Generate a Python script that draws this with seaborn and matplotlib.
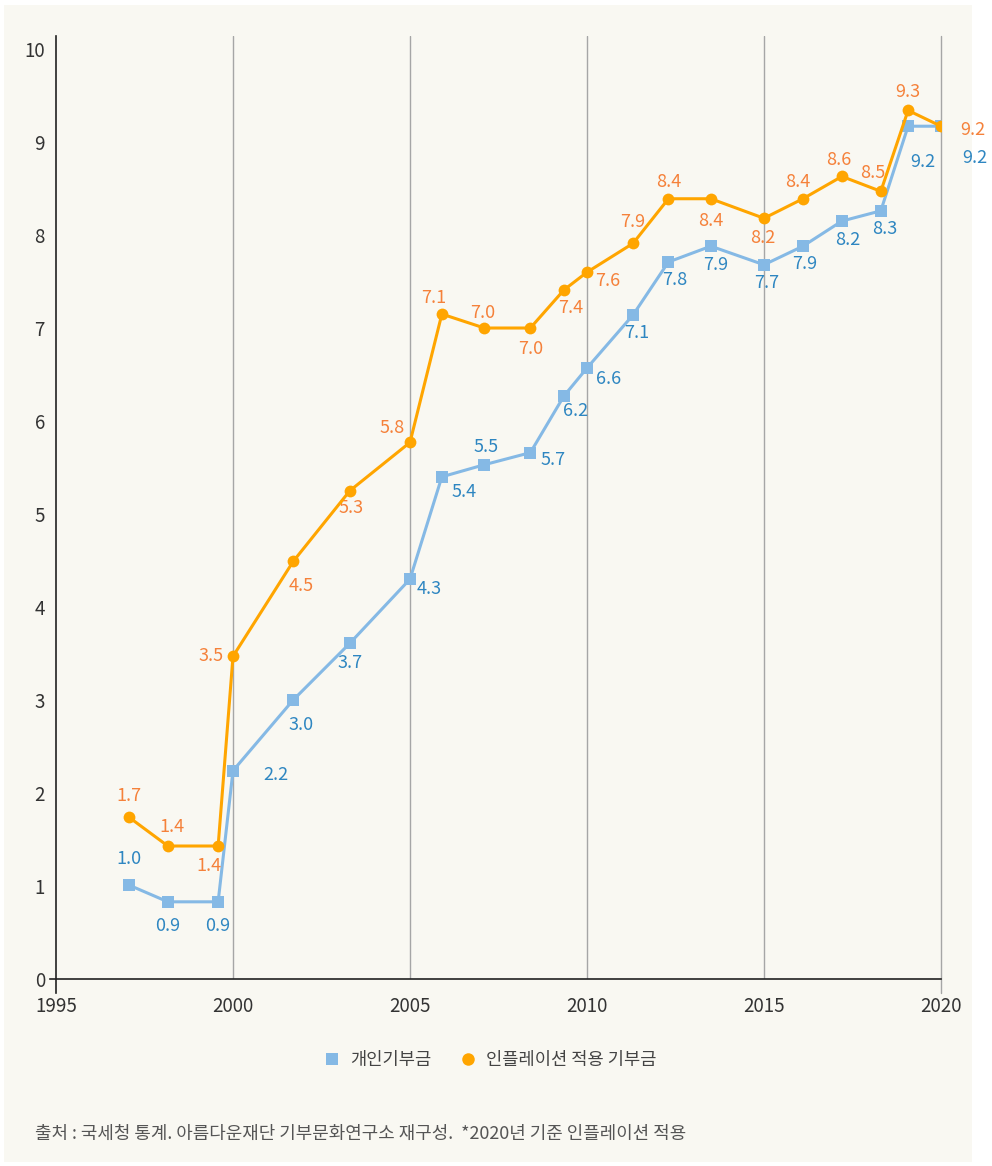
import matplotlib.pyplot as plt
import matplotlib.patches as mpatches
from matplotlib.lines import Line2D
import seaborn as sns

# x positions as placed on the original chart (years, uneven spacing)
years = [1997.06, 1998.16, 1999.58, 2000.0, 2001.7, 2003.3, 2005.0, 2005.9,
         2007.1, 2008.4, 2009.35, 2010.0, 2011.3, 2012.3, 2013.5, 2015.0,
         2016.1, 2017.2, 2018.3, 2019.07, 2020.0]

# 개인기부금
personal = [1.01, 0.83, 0.83, 2.24, 3.0, 3.61, 4.3, 5.4, 5.53, 5.66, 6.27,
            6.57, 7.14, 7.71, 7.88, 7.68, 7.88, 8.15, 8.26, 9.17, 9.17]
personal_labels = ["1.0", "0.9", "0.9", "2.2", "3.0", "3.7", "4.3", "5.4", "5.5",
                   "5.7", "6.2", "6.6", "7.1", "7.8", "7.9", "7.7", "7.9", "8.2",
                   "8.3", "9.2", "9.2"]

# 인플레이션 적용 기부금
adjusted = [1.74, 1.43, 1.43, 3.47, 4.49, 5.25, 5.77, 7.15, 7.0, 7.0, 7.41,
            7.6, 7.91, 8.39, 8.39, 8.18, 8.39, 8.63, 8.47, 9.34, 9.17]
adjusted_labels = ["1.7", "1.4", "1.4", "3.5", "4.5", "5.3", "5.8", "7.1", "7.0",
                   "7.0", "7.4", "7.6", "7.9", "8.4", "8.4", "8.2", "8.4", "8.6",
                   "8.5", "9.3", "9.2"]

# label offsets in pixels (dx right, dy down)
personal_off = [(0, -26), (0, 24), (0, 24), (43, 4), (8, 25), (0, 20), (19, 10),
                (22, 15), (2, -18), (23, 7), (12, 15), (22, 11), (4, 18), (6, 18),
                (5, 19), (3, 18), (2, 18), (6, 19), (4, 18), (15, 36), (34, 32)]
adjusted_off = [(0, -21), (4, -19), (-9, 20), (-22, 0), (8, 25), (1, 17), (-18, -14),
                (-8, -16), (-2, -15), (0, 21), (7, 18), (21, 9), (0, -21), (0, -17),
                (0, 22), (-1, 20), (-5, -17), (-3, -16), (-8, -18), (0, -18), (32, 4)]

BLUE = "#85b9e5"
BLUE_TXT = "#2e86c1"
ORANGE = "#ffa500"
ORANGE_TXT = "#f5813a"
BG = "#f9f8f2"

sns.set_style("white")
plt.rcParams['font.family'] = ['Noto Sans CJK KR', 'DejaVu Sans']

fig = plt.figure(figsize=(9.92, 11.66), dpi=100, facecolor="white")
fig.patches.append(mpatches.Rectangle((4 / 992, 1 - 1162 / 1166), 968 / 992, 1157 / 1166,
                                      transform=fig.transFigure, facecolor=BG,
                                      edgecolor="none", zorder=-10))
ax = fig.add_axes([56 / 992, 1 - 979 / 1166, 885 / 992, 943 / 1166])
ax.set_facecolor(BG)
ax.patch.set_alpha(0)

for g in [2000, 2005, 2010, 2015]:
    ax.axvline(g, color="#a6a6a6", lw=1, zorder=0)
ax.plot([2020, 2020], [-0.15, 10.14], color="#a6a6a6", lw=1, zorder=0, clip_on=False)

sns.lineplot(x=years, y=personal, ax=ax, color=BLUE, lw=2.2, marker="s",
             markersize=9, markeredgewidth=0, zorder=3)
sns.lineplot(x=years, y=adjusted, ax=ax, color=ORANGE, lw=2.2, marker="o",
             markersize=8.5, markeredgewidth=0, zorder=4)

for x, y, s, (dx, dy) in zip(years, personal, personal_labels, personal_off):
    ax.annotate(s, (x, y), xytext=(dx, -dy), textcoords="offset pixels",
                ha="center", va="center", fontsize=13, color=BLUE_TXT)
for x, y, s, (dx, dy) in zip(years, adjusted, adjusted_labels, adjusted_off):
    ax.annotate(s, (x, y), xytext=(dx, -dy), textcoords="offset pixels",
                ha="center", va="center", fontsize=13, color=ORANGE_TXT)

ax.set_xlim(1995, 2020)
ax.set_ylim(0, 10.14)
ax.set_xticks([1995, 2000, 2005, 2010, 2015, 2020])
ax.set_yticks(range(0, 11))
ax.tick_params(axis="x", length=0, pad=12, labelsize=13.5, labelcolor="#333333")
ax.tick_params(axis="y", length=0, pad=8, labelsize=13.5, labelcolor="#333333")

for side in ["top", "right"]:
    ax.spines[side].set_visible(False)
ax.spines["left"].set_bounds(-0.15, 10.14)
ax.spines["bottom"].set_bounds(1994.83, 2020)
for side in ["left", "bottom"]:
    ax.spines[side].set_color("#222222")
    ax.spines[side].set_linewidth(1.2)
ax.set_xlabel("")
ax.set_ylabel("")

handles = [Line2D([], [], ls="none", marker="s", markersize=9, color=BLUE, markeredgewidth=0),
           Line2D([], [], ls="none", marker="o", markersize=9, color=ORANGE, markeredgewidth=0)]
fig.legend(handles, ["개인기부금", "인플레이션 적용 기부금"], loc="center",
           bbox_to_anchor=(488 / 992, 1 - 1060 / 1166), ncol=2, frameon=False,
           fontsize=12.7, labelcolor="#444444", handletextpad=0.3, handlelength=1.4,
           columnspacing=1.4)

fig.text(35 / 992, 1 - 1134 / 1166,
         "출처 : 국세청 통계. 아름다운재단 기부문화연구소 재구성.  *2020년 기준 인플레이션 적용",
         fontsize=12.9, color="#555555", va="center", ha="left")

fig.savefig("out.png", dpi=100, facecolor="white")
